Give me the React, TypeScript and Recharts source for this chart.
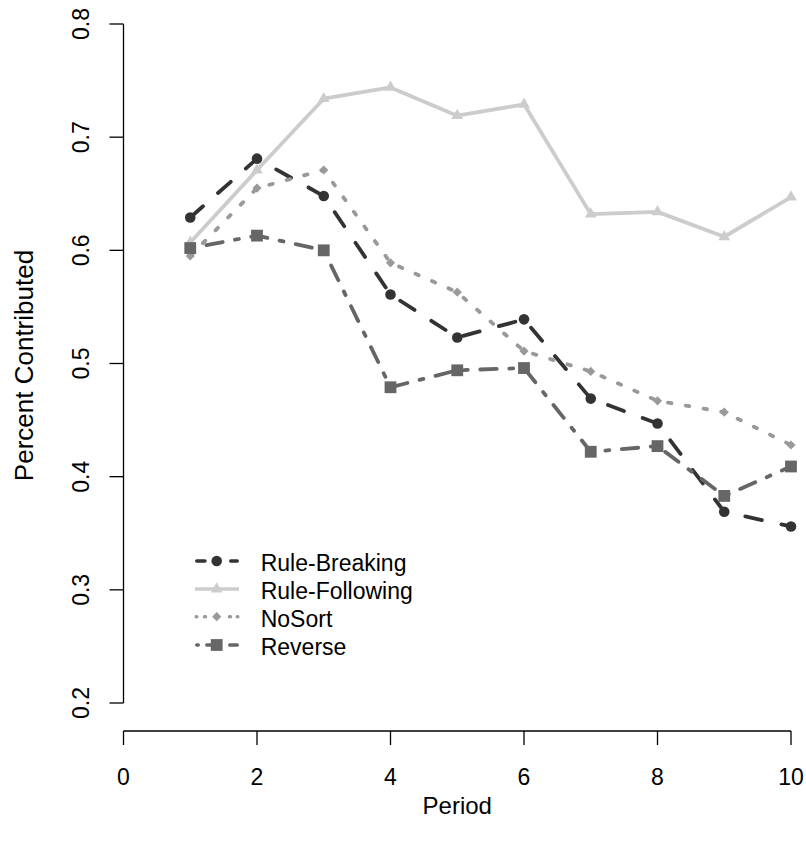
import React from "react";
import { LineChart, Line, XAxis, YAxis, ReferenceLine, Legend } from "recharts";

const periods = [1, 2, 3, 4, 5, 6, 7, 8, 9, 10];
const ruleBreaking = [0.629, 0.681, 0.648, 0.561, 0.523, 0.539, 0.469, 0.447, 0.369, 0.356];
const ruleFollowing = [0.607, 0.671, 0.734, 0.744, 0.719, 0.729, 0.632, 0.634, 0.612, 0.647];
const noSort = [0.595, 0.655, 0.671, 0.589, 0.563, 0.511, 0.493, 0.467, 0.457, 0.428];
const reverse = [0.602, 0.613, 0.6, 0.479, 0.494, 0.496, 0.422, 0.427, 0.383, 0.409];

const xTicks = [0, 2, 4, 6, 8, 10];
const yTicks = [0.2, 0.3, 0.4, 0.5, 0.6, 0.7, 0.8];

const seriesNames = ["Rule-Breaking", "Rule-Following", "NoSort", "Reverse"];
const seriesKeys = ["rb", "rf", "ns", "rv"];
const seriesColors = ["#333333", "#cccccc", "#999999", "#666666"];
const seriesDash = ["17 20", "", "3.5 14.5", "4 12.5 16.5 12.5"];
const seriesShapes = ["circle", "triangle", "diamond", "square"];
// legend line pieces (x ranges within the 44px legend sample)
const legendPieces = [
  [[6.75, 14.95], [40.75, 47.25]],
  [[5, 49]],
  [[6.25, 6.75], [14.5, 15.5], [39.5, 40.5], [47.25, 47.75]],
  [[6.75, 8.25], [16.75, 24], [39.75, 47.25]],
];

const data = periods.map((p, i) => ({
  period: p,
  rb: ruleBreaking[i],
  rf: ruleFollowing[i],
  ns: noSort[i],
  rv: reverse[i],
}));

const FONT = "'Liberation Sans', Arial, Helvetica, sans-serif";
const FS = 23;

function markerShape(shape: string, cx: number, cy: number, color: string, key?: any) {
  if (cx == null || cy == null || isNaN(cx) || isNaN(cy)) return <g key={key} />;
  if (shape === "circle") return <circle key={key} cx={cx} cy={cy} r={5.3} fill={color} />;
  if (shape === "triangle") {
    const r = 6.8;
    const pts = `${cx},${cy - r} ${cx - r * 0.866},${cy + r / 2} ${cx + r * 0.866},${cy + r / 2}`;
    return <polygon key={key} points={pts} fill={color} />;
  }
  if (shape === "diamond") {
    const d = 4.6;
    const pts = `${cx},${cy - d} ${cx + d},${cy} ${cx},${cy + d} ${cx - d},${cy}`;
    return <polygon key={key} points={pts} fill={color} />;
  }
  const h = 5.9;
  return <rect key={key} x={cx - h} y={cy - h} width={2 * h} height={2 * h} fill={color} />;
}

const makeDot = (idx: number) => (props: any) =>
  markerShape(seriesShapes[idx], props.cx, props.cy, seriesColors[idx], props.key ?? `${idx}-${props.index}`);

const XTick = (props: any) => {
  const { x, y, payload } = props;
  return (
    <text x={x} y={y + 40} textAnchor="middle" fontSize={FS} fontFamily={FONT} fill="#000">
      {payload.value}
    </text>
  );
};

const YTick = (props: any) => {
  const { x, y, payload } = props;
  const bx = x - 20.5;
  return (
    <text
      x={bx}
      y={y}
      textAnchor="middle"
      fontSize={FS}
      fontFamily={FONT}
      fill="#000"
      transform={`rotate(-90, ${bx}, ${y})`}
    >
      {Number(payload.value).toFixed(1)}
    </text>
  );
};

const YLabel = (props: any) => {
  const vb = props.viewBox || {};
  const bx = 33;
  const cy = (vb.y ?? 0) + (vb.height ?? 731) / 2;
  return (
    <text
      x={bx}
      y={cy}
      textAnchor="middle"
      fontSize={26}
      fontFamily={FONT}
      fill="#000"
      transform={`rotate(-90, ${bx}, ${cy})`}
    >
      Percent Contributed
    </text>
  );
};

const XLabel = (props: any) => {
  const vb = props.viewBox || {};
  const cx = (vb.x ?? 123.5) + (vb.width ?? 667.5) / 2;
  return (
    <text x={cx} y={814} textAnchor="middle" fontSize={24} fontFamily={FONT} fill="#000">
      Period
    </text>
  );
};

const LegendContent = () => {
  const rowY = [21, 49, 76.7, 105];
  return (
    <svg width={240} height={125} style={{ display: "block" }}>
      {seriesNames.map((name, i) => (
        <g key={name}>
          {legendPieces[i].map((pc, j) => (
            <line
              key={j}
              x1={pc[0]}
              y1={rowY[i]}
              x2={pc[1]}
              y2={rowY[i]}
              stroke={seriesColors[i]}
              strokeWidth={3.5}
              strokeLinecap={i === 1 ? "butt" : "round"}
            />
          ))}
          {markerShape(seriesShapes[i], 26.7, rowY[i], seriesColors[i])}
          <text x={70.7} y={rowY[i] + 10} fontSize={23} fontFamily={FONT} fill="#000">
            {name}
          </text>
        </g>
      ))}
    </svg>
  );
};

export default function App() {
  return (
    <div style={{ position: "absolute", left: 0, top: 0, width: 806, height: 848, background: "#fff" }}>
      <LineChart width={806} height={848} data={data} margin={{ top: 0, right: 15, bottom: 0, left: 0 }}>
        <XAxis
          dataKey="period"
          type="number"
          domain={[0, 10]}
          ticks={xTicks}
          interval={0}
          height={117}
          tickSize={14}
          tickMargin={0}
          stroke="#000"
          strokeWidth={1.3}
          tick={<XTick />}
          label={<XLabel />}
        />
        <YAxis
          type="number"
          domain={[0.17526, 0.82121]}
          allowDataOverflow
          ticks={yTicks}
          interval={0}
          width={123.5}
          tickSize={14}
          tickMargin={0}
          axisLine={false}
          tickLine={{ stroke: "#000", strokeWidth: 1.3 }}
          tick={<YTick />}
          label={<YLabel />}
        />
        <ReferenceLine
          segment={[
            { x: 0, y: 0.2 },
            { x: 0, y: 0.8 },
          ]}
          stroke="#000"
          strokeWidth={1.3}
          ifOverflow="visible"
        />
        {seriesKeys.map((k, i) => (
          <Line
            key={k}
            dataKey={k}
            type="linear"
            stroke={seriesColors[i]}
            strokeWidth={3.8}
            strokeDasharray={seriesDash[i] || undefined}
            strokeLinecap="round"
            strokeLinejoin="round"
            dot={makeDot(i)}
            activeDot={false}
            isAnimationActive={false}
          />
        ))}
        <Legend
          layout="horizontal"
          verticalAlign="middle"
          align="center"
          content={<LegendContent />}
          wrapperStyle={{ position: "absolute", left: 190, top: 540, width: 240, height: 125 }}
        />
      </LineChart>
    </div>
  );
}
